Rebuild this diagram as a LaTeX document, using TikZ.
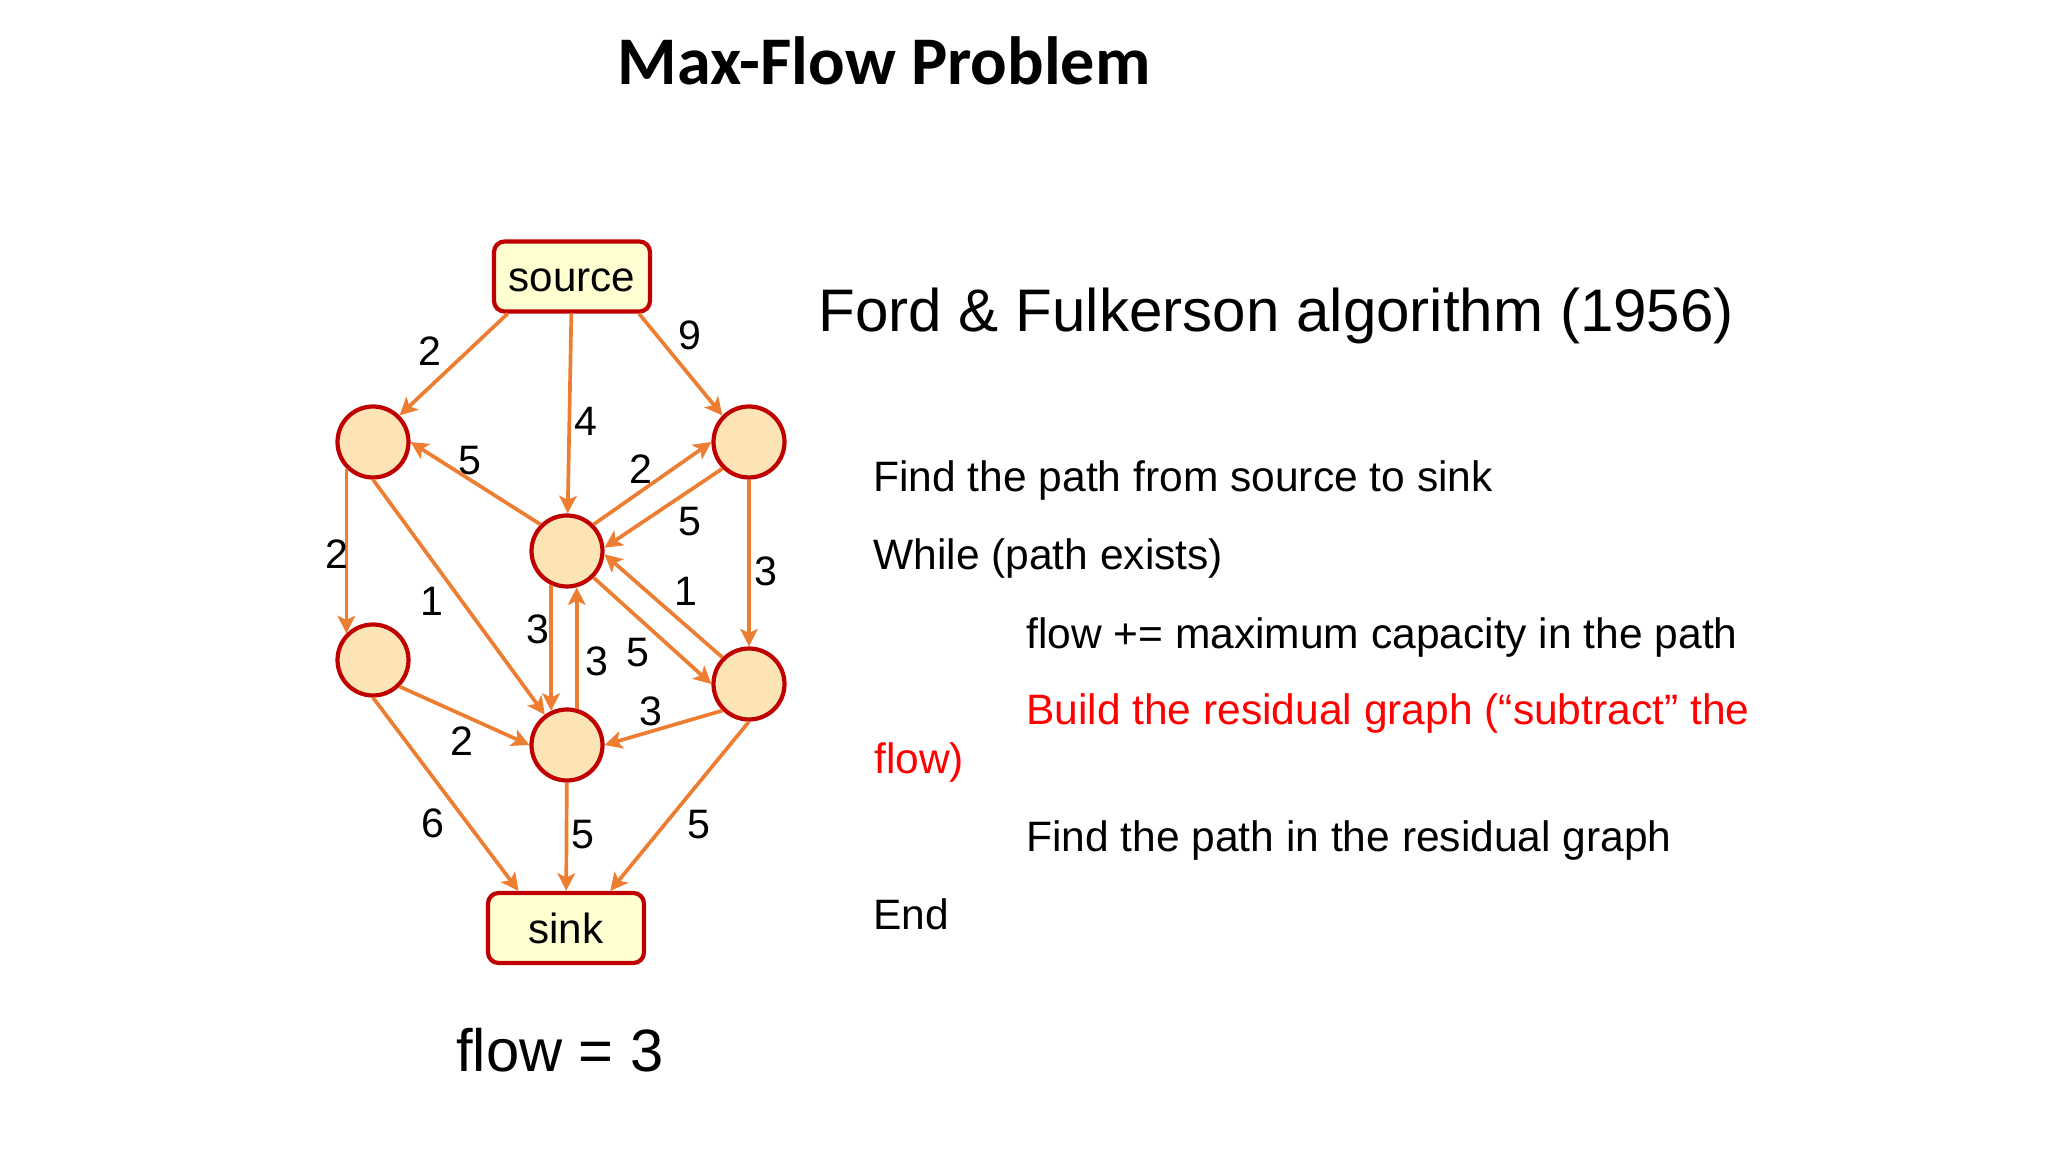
\documentclass[tikz,border=0pt]{standalone}
\usepackage{fontspec}
\setmainfont{Liberation Sans}
\newfontfamily\titlefont{Carlito}
\usetikzlibrary{arrows.meta}
\definecolor{edgeorange}{HTML}{ED7D31}
\definecolor{nodered}{HTML}{C00000}
\definecolor{nodefill}{HTML}{FCE4B6}
\definecolor{boxfill}{HTML}{FFFFD2}

\begin{document}
\begin{tikzpicture}[vtx/.style={circle,draw=nodered,fill=nodefill,line width=1.2pt,minimum size=0.71cm,inner sep=0pt},
  term/.style={draw=nodered,fill=boxfill,line width=1.2pt,rounded corners=3pt,minimum width=1.56cm,minimum height=0.70cm,inner sep=0pt,text height=8.6pt,text depth=0pt,font=\fontsize{12}{14}\selectfont},
  flowedge/.style={draw=edgeorange,line width=1.05pt,-{Stealth[length=5pt,width=5pt,inset=1.2pt]}},
  lbl/.style={font=\fontsize{11.7}{14}\selectfont,inner sep=1pt},
  txt/.style={anchor=base west,inner sep=0pt,font=\fontsize{12.1}{14}\selectfont}]
\useasboundingbox (0,0) rectangle (20.48,-11.52);
% graph
\node[term] (source) at (5.72,-2.765) {source};
\node[vtx] (A) at (3.73,-4.42) {};
\node[vtx] (B) at (7.49,-4.42) {};
\node[vtx] (C) at (5.67,-5.51) {};
\node[vtx] (D) at (3.73,-6.60) {};
\node[vtx] (E) at (7.49,-6.84) {};
\node[vtx] (F) at (5.67,-7.45) {};
\node[term] (sink) at (5.66,-9.28) {sink};
\draw[flowedge] (source.210) -- node[lbl,pos=.56,above left]{2} (A.45);
\draw[flowedge] (source) -- node[lbl,pos=.54,right]{4} (C);
\draw[flowedge] (source.331) -- node[lbl,pos=.41,above right]{9} (B.135);
\draw[flowedge] (C.135) -- node[lbl,pos=.54,above]{5} (A.east);
\draw[flowedge] (C.45) -- node[lbl,pos=.5,above left=-1.5pt]{2} (B.west);
\draw[flowedge] (B.225) -- node[lbl,pos=.42,below right]{5} (C.5);
\draw[flowedge] (A.225) -- node[lbl,pos=.52,left=-2pt]{2} (D.135);
\draw[flowedge] (B) -- node[lbl,pos=.55,right]{3} (E);
\draw[flowedge] (A.south) -- node[lbl,pos=.52,left=4pt]{1} (F);
\draw[flowedge] (C.245) -- node[lbl,pos=.35,left=-1pt]{3} (F.115);
\draw[flowedge] (F.75) -- node[lbl,pos=.39,right=1pt]{3} (C.285);
\draw[flowedge] (C.-45) -- node[lbl,pos=.52,below left]{5} (E.west);
\draw[flowedge] (E.135) -- node[lbl,pos=.45,above right]{1} (C.-5);
\draw[flowedge] (D.-45) -- node[lbl,pos=.48,below=2pt]{2} (F.west);
\draw[flowedge] (E.225) -- node[lbl,pos=.61,above]{3} (F.east);
\draw[flowedge] (D.south) -- node[lbl,pos=.65,left=5pt]{6} (sink.142);
\draw[flowedge] (F) -- node[lbl,pos=.48,right]{5} (sink);
\draw[flowedge] (E.south) -- node[lbl,pos=.61,right=5pt]{5} (sink.40);
% texts
\node[anchor=base west,inner sep=0pt,font=\titlefont\bfseries\fontsize{19.4}{23}\selectfont] (title) at (6.17,-0.85) {Max-Flow Problem};
\node[txt,font=\fontsize{17.1}{20}\selectfont] (algo) at (8.18,-3.317) {Ford \& Fulkerson algorithm (1956)};
\node[txt] (l1) at (8.727,-4.917) {Find the path from source to sink};
\node[txt] (l2) at (8.727,-5.693) {While (path exists)};
\node[txt] (l3) at (10.255,-6.483) {flow += maximum capacity in the path};
\node[txt,red] (l4) at (10.255,-7.25) {Build the residual graph (“subtract” the};
\node[txt,red] (l5) at (8.735,-7.733) {flow)};
\node[txt] (l6) at (10.255,-8.517) {Find the path in the residual graph};
\node[txt] (l7) at (8.727,-9.30) {End};
\node[txt,font=\fontsize{17}{20}\selectfont] (flowval) at (4.555,-10.71) {flow = 3};
\end{tikzpicture}
\end{document}
